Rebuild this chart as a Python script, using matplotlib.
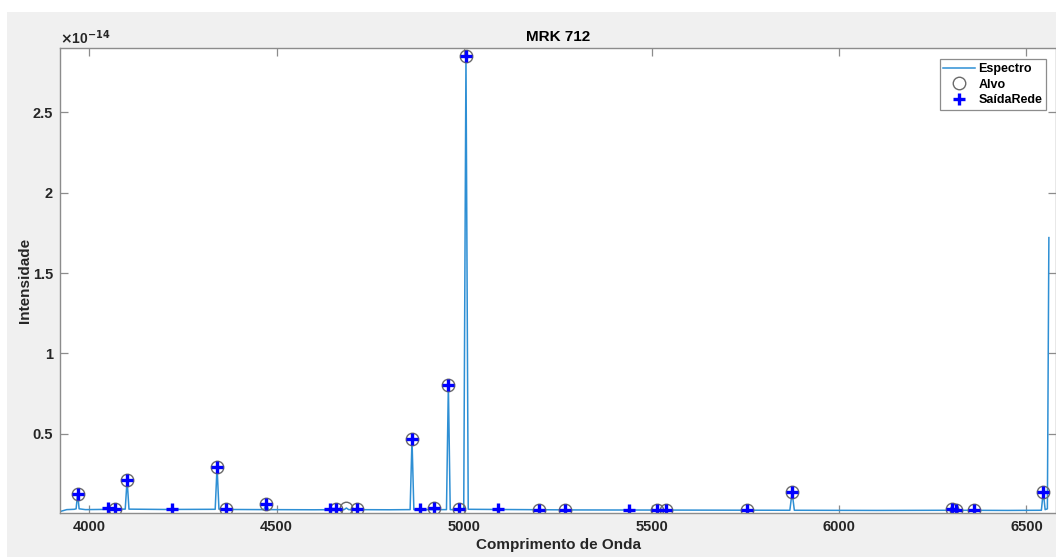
import matplotlib
matplotlib.use("Agg")
import matplotlib.pyplot as plt
from matplotlib.patches import Rectangle
from matplotlib.ticker import FuncFormatter

plt.rcParams["font.family"] = ["Liberation Sans", "DejaVu Sans"]
plt.rcParams["font.weight"] = "bold"

SCALE = 1e-14

# spectrum (wavelength in Angstrom, intensity in units of 1e-14)
wave = [3925, 3940, 3960, 3965, 3969, 3973, 3990, 4060, 4065, 4069, 4073,
        4096, 4101, 4106, 4200, 4336, 4341, 4346, 4360, 4364, 4368,
        4466, 4472, 4478, 4600, 4680, 4686, 4692, 4800, 4856, 4861, 4866,
        4953, 4958, 4963, 4999, 5005, 5011, 5300, 5600, 5869, 5875, 5881,
        6100, 6296, 6301, 6306, 6309, 6312, 6316, 6450, 6540, 6545, 6550,
        6556, 6560]
flux = [0.020, 0.030, 0.032, 0.035, 0.130, 0.035, 0.030, 0.032, 0.033, 0.042, 0.033,
        0.033, 0.214, 0.033, 0.031, 0.032, 0.297, 0.033, 0.032, 0.038, 0.031,
        0.030, 0.063, 0.030, 0.029, 0.030, 0.040, 0.030, 0.029, 0.030, 0.467, 0.030,
        0.030, 0.804, 0.030, 0.030, 2.850, 0.032, 0.028, 0.027, 0.026, 0.138, 0.026,
        0.025, 0.026, 0.040, 0.027, 0.027, 0.034, 0.026, 0.025, 0.026, 0.142, 0.030,
        0.035, 1.720]

# target lines (Alvo)
alvo_x = [3969, 4069, 4101, 4341, 4364, 4472, 4657, 4686, 4713, 4861, 4921, 4958,
          4986, 5005, 5199, 5270, 5514, 5538, 5755, 5875, 6301, 6312, 6361, 6545]
alvo_y = [0.130, 0.036, 0.214, 0.297, 0.036, 0.063, 0.035, 0.040, 0.033, 0.467, 0.040, 0.804,
          0.032, 2.850, 0.030, 0.030, 0.029, 0.029, 0.026, 0.138, 0.034, 0.030, 0.026, 0.142]

# network output (SaidaRede)
rede_x = [3969, 4051, 4069, 4101, 4222, 4341, 4364, 4472, 4642, 4657, 4713, 4861,
          4882, 4921, 4958, 4986, 5005, 5090, 5199, 5270, 5441, 5514, 5538, 5755,
          5875, 6301, 6312, 6361, 6545]
rede_y = [0.130, 0.038, 0.036, 0.214, 0.032, 0.297, 0.036, 0.063, 0.032, 0.035, 0.033, 0.467,
          0.032, 0.040, 0.804, 0.032, 2.850, 0.032, 0.030, 0.030, 0.028, 0.029, 0.029, 0.026,
          0.138, 0.034, 0.030, 0.026, 0.142]

xticks = [4000, 4500, 5000, 5500, 6000, 6500]
yticks = [0.5, 1, 1.5, 2, 2.5]

fig = plt.figure(figsize=(10.56, 5.57), dpi=100, facecolor="white")
fig.patches.append(Rectangle((7 / 1056, 0), 1, 545 / 557, transform=fig.transFigure,
                             facecolor="#f0f0f0", edgecolor="none", zorder=-10))
ax = fig.add_axes([60 / 1056, 44 / 557, 996 / 1056, 465 / 557])
ax.set_facecolor("white")

ax.plot(wave, [f * SCALE for f in flux], color="#2e8fd4", lw=1.1, label="Espectro")
ax.plot(alvo_x, [v * SCALE for v in alvo_y], "o", ms=9, mfc="none", mec="#6a6a6a",
        mew=1.0, label="Alvo")
ax.plot(rede_x, [v * SCALE for v in rede_y], "+", ms=8.5, mec="#0000ff", mew=2.4,
        label="SaídaRede")

ax.set_xlim(3922, 6579)
ax.set_ylim(0.009 * SCALE, 2.898 * SCALE)
ax.set_xticks(xticks)
ax.set_yticks([t * SCALE for t in yticks])
ax.yaxis.set_major_formatter(FuncFormatter(lambda v, p: "%g" % round(v / SCALE, 3)))

for s in ax.spines.values():
    s.set_color("#8c8c8c")
    s.set_linewidth(1.0)
ax.tick_params(direction="in", length=6, width=0.9, color="#8c8c8c", top=True, right=True,
               labelsize=10.5, labelcolor="#262626", pad=5)
for lab in ax.get_xticklabels() + ax.get_yticklabels():
    lab.set_fontweight("bold")

ax.text(0, 1.002, r"$\times$10$^{-14}$", transform=ax.transAxes, fontsize=10,
        color="#262626", ha="left", va="bottom")
ax.set_title("MRK 712", fontsize=11, fontweight="bold", color="black", pad=5)
ax.set_xlabel("Comprimento de Onda", fontsize=11, fontweight="bold", color="#262626", labelpad=3)
ax.set_ylabel("Intensidade", fontsize=11, fontweight="bold", color="#262626")
ax.yaxis.set_label_coords(-28 / 996, 0.5)

leg = ax.legend(loc="upper right", bbox_to_anchor=(0.99, 0.976), borderaxespad=0,
                fancybox=False, framealpha=1, edgecolor="#8c8c8c", fontsize=9,
                handlelength=2.5, handletextpad=0.3, labelspacing=0.3, borderpad=0.3)
leg.get_frame().set_linewidth(0.9)
for t in leg.get_texts():
    t.set_fontweight("bold")

fig.savefig("out.png", dpi=100, facecolor=fig.get_facecolor())
